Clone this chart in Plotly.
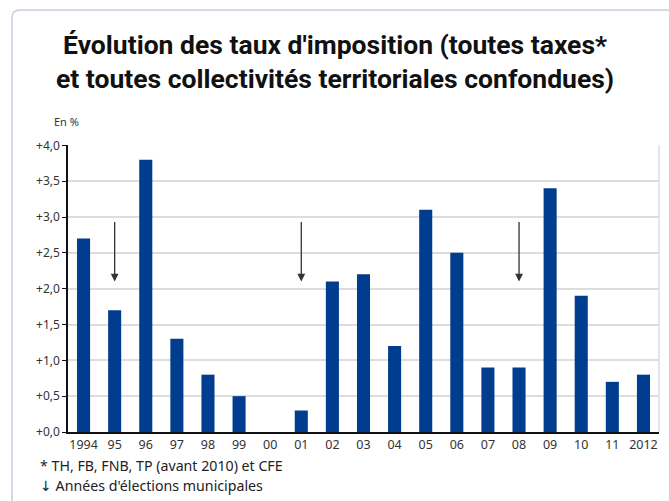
import plotly.graph_objects as go

categories = ["1994", "95", "96", "97", "98", "99", "00", "01", "02", "03",
              "04", "05", "06", "07", "08", "09", "10", "11", "2012"]
values = [2.7, 1.7, 3.8, 1.3, 0.8, 0.5, 0.0, 0.3, 2.1, 2.2,
          1.2, 3.1, 2.5, 0.9, 0.9, 3.4, 1.9, 0.7, 0.8]
election_years = ["95", "01", "08"]
arrow_top = 2.95
arrow_bottom = 2.1
tick_vals = [0, 0.5, 1, 1.5, 2, 2.5, 3, 3.5, 4]
tick_text = ["+0,0", "+0,5", "+1,0", "+1,5", "+2,0", "+2,5", "+3,0", "+3,5", "+4,0"]

W, H = 669, 501
L, R, T, B = 68, 10, 145, 69
pw, ph = W - L - R, H - T - B

def px(x):
    return (x - L) / pw

def py(y):
    return (H - B - y) / ph

fig = go.Figure()
fig.add_trace(go.Bar(x=categories, y=values, marker_color="#003d8f",
                     marker_line_width=0, width=0.42))

title_font = "Roboto, Noto Sans, sans-serif"
body_font = "Noto Sans, DejaVu Sans, sans-serif"
annotations = []
for c in election_years:
    i = categories.index(c)
    annotations.append(dict(x=i, y=arrow_bottom, ax=i, ay=arrow_top,
                            xref="x", yref="y", axref="x", ayref="y",
                            showarrow=True, arrowhead=2, arrowsize=1.2,
                            arrowwidth=1.3, arrowcolor="#333333", text=""))

annotations += [
    dict(text="<b>Évolution des taux d'imposition (toutes taxes*<br>et toutes collectivités territoriales confondues)</b>",
         x=px(335), y=py(62), xref="paper", yref="paper", showarrow=False,
         xanchor="center", yanchor="middle",
         font=dict(family=title_font, size=26.5, color="#111111"), align="center"),
    dict(text="En %", x=px(52), y=py(121), xref="paper", yref="paper",
         showarrow=False, xanchor="left", yanchor="middle",
         font=dict(family=body_font, size=11, color="#333333")),
    dict(text="* TH, FB, FNB, TP (avant 2010) et CFE", x=px(38), y=py(465),
         xref="paper", yref="paper", showarrow=False, xanchor="left", yanchor="middle",
         font=dict(family=body_font, size=14.2, color="#222222")),
    dict(text="\u2193 Années d'élections municipales", x=px(38), y=py(485),
         xref="paper", yref="paper", showarrow=False, xanchor="left", yanchor="middle",
         font=dict(family=body_font, size=14.2, color="#222222")),
]

r = 8
path = (f"M {px(700)},{py(10)} L {px(12 + r)},{py(10)} "
        f"Q {px(12)},{py(10)} {px(12)},{py(10 + r)} L {px(12)},{py(520)}")
shapes = [
    dict(type="path", path=path, xref="paper", yref="paper",
         line=dict(color="#c5cddd", width=1.5), layer="below"),
    dict(type="line", x0=1, x1=1, y0=0, y1=1, xref="paper", yref="paper",
         line=dict(color="#dddddd", width=1.5)),
]

fig.update_layout(
    width=W, height=H,
    margin=dict(l=L, r=R, t=T, b=B, autoexpand=False),
    paper_bgcolor="white", plot_bgcolor="white",
    showlegend=False,
    annotations=annotations,
    shapes=shapes,
    xaxis=dict(type="category", range=[-0.5, len(categories) - 0.5],
               showline=True, linecolor="#111111", linewidth=1.5,
               ticks="", showgrid=False, tickangle=0,
               tickfont=dict(family=body_font, size=12.5, color="#333333")),
    yaxis=dict(range=[0, 4.005], tickvals=tick_vals, ticktext=tick_text,
               showline=True, linecolor="#111111", linewidth=1.5,
               ticks="outside", ticklen=4, tickcolor="#111111",
               showgrid=True, gridcolor="#dddddd", gridwidth=1.5, zeroline=False,
               tickfont=dict(family=body_font, size=12, color="#333333")),
)

fig.write_html("out.html", config={"displayModeBar": False},
               post_script="document.body.style.margin='0';document.body.style.overflow='hidden';")
